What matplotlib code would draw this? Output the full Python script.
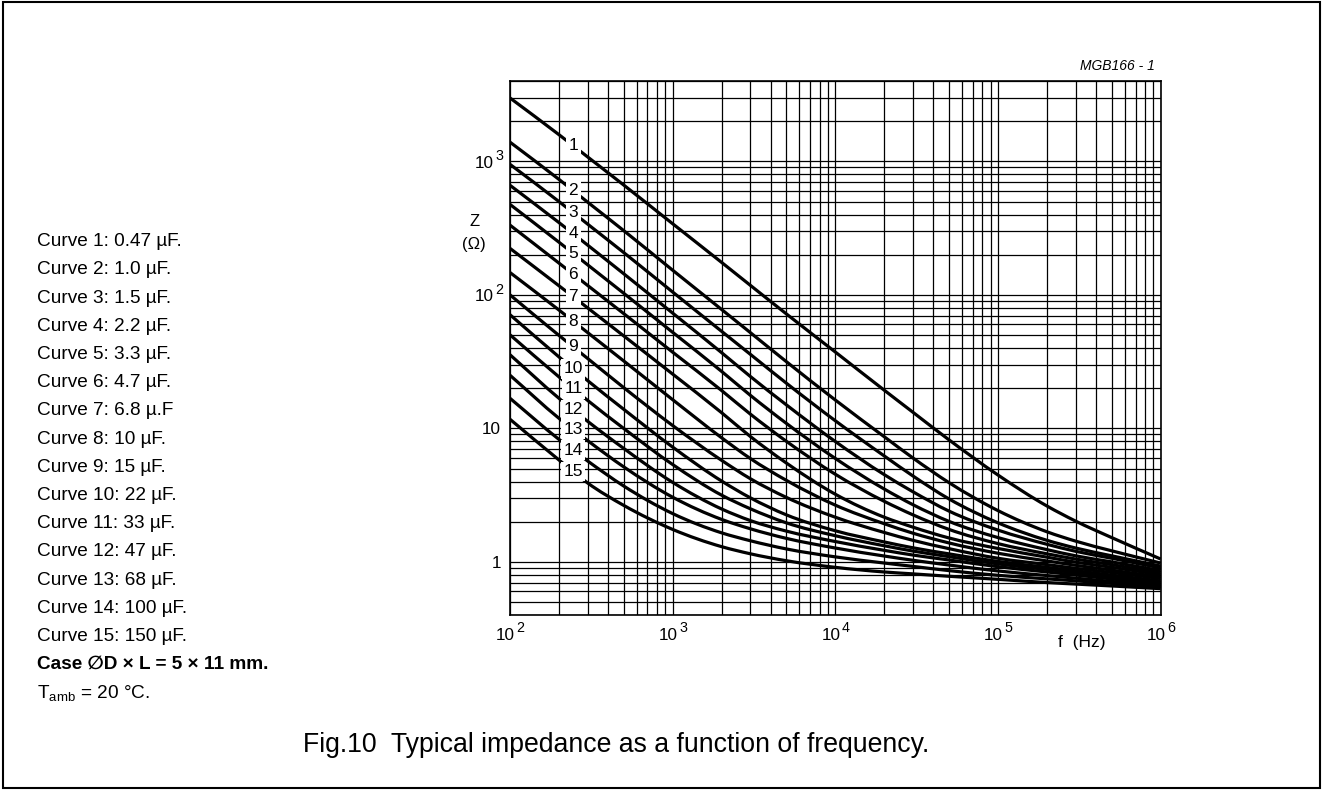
import numpy as np
import matplotlib
matplotlib.use("Agg")
import matplotlib.pyplot as plt
from matplotlib.ticker import FixedLocator, LogLocator, NullFormatter
from matplotlib.patches import Rectangle, PathPatch
from matplotlib.path import Path

plt.rcParams['font.family'] = ['Liberation Sans', 'DejaVu Sans']
plt.rcParams['mathtext.fontset'] = 'custom'
plt.rcParams['mathtext.rm'] = 'Liberation Sans'
plt.rcParams['mathtext.it'] = 'Liberation Sans:italic'
plt.rcParams['mathtext.bf'] = 'Liberation Sans:bold'

# ---------------- data ----------------
freq = [100, 200, 300, 500, 1e3, 2e3, 3e3, 5e3, 1e4, 2e4, 3e4, 5e4, 1e5, 2e5, 3e5, 5e5, 1e6]

curve_1 = [2985, 1585, 1080, 665, 341, 175, 118, 72, 37.3, 19.3, 13.2, 8.2, 4.47, 2.62, 2.02, 1.52, 1.05]
curve_2 = [1393, 733, 495, 303, 153, 77.7, 52.2, 31.6, 16.3, 8.65, 6.0, 3.92, 2.42, 1.68, 1.43, 1.21, 0.98]
curve_3 = [950, 500, 339, 207.5, 105, 53.3, 35.9, 21.8, 11.4, 6.21, 4.4, 2.96, 1.96, 1.45, 1.27, 1.11, 0.93]
curve_4 = [662, 348, 236, 144, 73, 36.9, 24.5, 15.0, 7.97, 4.50, 3.35, 2.40, 1.73, 1.354, 1.2, 1.064, 0.90]
curve_5 = [476, 248, 168, 102.8, 52.4, 26.7, 17.7, 10.9, 5.95, 3.51, 2.68, 2.01, 1.52, 1.235, 1.11, 1.0, 0.86]
curve_6 = [333, 173, 117.7, 72.4, 37.2, 19.2, 12.8, 8.0, 4.53, 2.84, 2.25, 1.75, 1.37, 1.149, 1.05, 0.953, 0.83]
curve_7 = [223, 117, 79.9, 49.3, 25.5, 13.1, 8.7, 5.5, 3.21, 2.16, 1.82, 1.51, 1.26, 1.084, 0.995, 0.911, 0.80]
curve_8 = [147, 77, 52.2, 32, 16.4, 8.5, 5.95, 4.08, 2.66, 1.93, 1.64, 1.386, 1.16, 1.016, 0.943, 0.867, 0.77]
curve_9 = [100, 49.7, 33.4, 20.2, 10.5, 5.76, 4.2, 3.04, 2.16, 1.66, 1.45, 1.256, 1.064, 0.954, 0.895, 0.832, 0.75]
curve_10 = [71, 34.3, 22.8, 13.9, 7.24, 4.03, 3.02, 2.25, 1.71, 1.41, 1.275, 1.148, 1.008, 0.91, 0.858, 0.796, 0.72]
curve_11 = [50.2, 24.3, 16.2, 9.99, 5.36, 3.16, 2.50, 1.96, 1.57, 1.32, 1.205, 1.094, 0.965, 0.877, 0.829, 0.771, 0.70]
curve_12 = [35.6, 16.8, 11.3, 7.08, 3.94, 2.49, 2.04, 1.70, 1.42, 1.22, 1.125, 1.033, 0.92, 0.84, 0.797, 0.745, 0.68]
curve_13 = [25, 11.9, 8.1, 5.15, 3.05, 2.08, 1.77, 1.5, 1.27, 1.106, 1.028, 0.947, 0.855, 0.79, 0.755, 0.714, 0.66]
curve_14 = [16.8, 8.27, 5.7, 3.7, 2.3, 1.65, 1.44, 1.25, 1.09, 0.98, 0.925, 0.86, 0.793, 0.746, 0.721, 0.69, 0.65]
curve_15 = [11.7, 5.8, 3.9, 2.65, 1.75, 1.3, 1.15, 1.02, 0.91, 0.84, 0.813, 0.78, 0.74, 0.70, 0.682, 0.66, 0.63]

curves = [curve_1, curve_2, curve_3, curve_4, curve_5, curve_6, curve_7, curve_8,
          curve_9, curve_10, curve_11, curve_12, curve_13, curve_14, curve_15]
curve_labels = [str(i) for i in range(1, 16)]

x_ticks = [1e2, 1e3, 1e4, 1e5, 1e6]
x_exponents = ['2', '3', '4', '5', '6']
y_ticks_pow = [1000, 100]
y_exponents = ['3', '2']
y_ticks_plain = [10, 1]
y_plain_labels = ['10', '1']

legend_lines = ["Curve 1: 0.47 \u00b5F.", "Curve 2: 1.0 \u00b5F.", "Curve 3: 1.5 \u00b5F.",
                "Curve 4: 2.2 \u00b5F.", "Curve 5: 3.3 \u00b5F.", "Curve 6: 4.7 \u00b5F.",
                "Curve 7: 6.8 \u00b5.F", "Curve 8: 10 \u00b5F.", "Curve 9: 15 \u00b5F.",
                "Curve 10: 22 \u00b5F.", "Curve 11: 33 \u00b5F.", "Curve 12: 47 \u00b5F.",
                "Curve 13: 68 \u00b5F.", "Curve 14: 100 \u00b5F.", "Curve 15: 150 \u00b5F."]
label_freq = 245

# ---------------- figure ----------------
W, H = 1324, 791
fig = plt.figure(figsize=(W / 100, H / 100), dpi=100)

def fx(x):
    return x / W

def fy(y):
    return 1 - y / H

PT = 0.72  # points per pixel at 100 dpi

ax = fig.add_axes([fx(510), fy(615), (1160.7 - 510) / W, (615 - 81) / H])
ax.set_xscale('log')
ax.set_yscale('log')
ax.set_xlim(1e2, 1e6)
ax.set_ylim(0.4, 4000)

ax.xaxis.set_major_locator(FixedLocator(x_ticks))
ax.yaxis.set_major_locator(FixedLocator(y_ticks_pow + y_ticks_plain))
ax.xaxis.set_minor_locator(LogLocator(base=10, subs=np.arange(2, 10), numticks=20))
ax.yaxis.set_minor_locator(LogLocator(base=10, subs=np.arange(2, 10), numticks=20))
for a in (ax.xaxis, ax.yaxis):
    a.set_major_formatter(NullFormatter())
    a.set_minor_formatter(NullFormatter())
ax.tick_params(which='both', length=0)
ax.grid(which='both', color='black', lw=0.9)
ax.set_axisbelow(True)
for s in ax.spines.values():
    s.set_linewidth(1.2)
    s.set_zorder(5)

# tick labels drawn as base + superscript
for t, e in zip(x_ticks, x_exponents):
    ax.annotate('10', xy=(t, 0), xycoords=('data', 'axes fraction'),
                xytext=(5 * PT, -21 * PT), textcoords='offset points',
                ha='right', va='center', fontsize=12.3, annotation_clip=False)
    ax.annotate(e, xy=(t, 0), xycoords=('data', 'axes fraction'),
                xytext=(6.5 * PT, -13.5 * PT), textcoords='offset points',
                ha='left', va='center', fontsize=10.3, annotation_clip=False)
for t, e in zip(y_ticks_pow, y_exponents):
    ax.annotate('10', xy=(0, t), xycoords=('axes fraction', 'data'),
                xytext=(-16.5 * PT, -2 * PT), textcoords='offset points',
                ha='right', va='center', fontsize=12.3, annotation_clip=False)
    ax.annotate(e, xy=(0, t), xycoords=('axes fraction', 'data'),
                xytext=(-6.5 * PT, 5 * PT), textcoords='offset points',
                ha='right', va='center', fontsize=10.3, annotation_clip=False)
for t, lab in zip(y_ticks_plain, y_plain_labels):
    ax.annotate(lab, xy=(0, t), xycoords=('axes fraction', 'data'),
                xytext=(-9 * PT, -1.5 * PT), textcoords='offset points',
                ha='right', va='center', fontsize=12.3, annotation_clip=False)


def smooth_path(xs, ys):
    """Smooth (Hermite/Bezier) path through the read points, built in log-log space."""
    lx = np.log10(np.asarray(xs, float))
    lyv = np.log10(np.asarray(ys, float))
    m = np.gradient(lyv, lx)
    verts = [(lx[0], lyv[0])]
    codes = [Path.MOVETO]
    for i in range(len(lx) - 1):
        h = lx[i + 1] - lx[i]
        verts += [(lx[i] + h / 3, lyv[i] + m[i] * h / 3),
                  (lx[i + 1] - h / 3, lyv[i + 1] - m[i + 1] * h / 3),
                  (lx[i + 1], lyv[i + 1])]
        codes += [Path.CURVE4] * 3
    verts = 10 ** np.array(verts)
    return Path(verts, codes)


for vals, lab in zip(curves, curve_labels):
    patch = PathPatch(smooth_path(freq, vals), facecolor='none', edgecolor='black',
                      lw=2.3, capstyle='butt', joinstyle='round', zorder=2)
    ax.add_patch(patch)
    ly = 10 ** np.interp(np.log10(label_freq), np.log10(freq), np.log10(vals))
    ax.text(label_freq, ly, lab, fontsize=12.5, ha='center', va='center', zorder=4,
            bbox=dict(facecolor='white', edgecolor='none', pad=1.8))

# axis labels
fig.text(fx(475), fy(222), 'Z', fontsize=12, ha='center', va='center')
fig.text(fx(474), fy(245), '(\u03a9)', fontsize=12, ha='center', va='center')
fig.text(fx(1082), fy(643), 'f  (Hz)', fontsize=12.5, ha='center', va='center')
fig.text(fx(1155), fy(66), 'MGB166 - 1', fontsize=10, style='italic', ha='right', va='center')

# left text block
FS = 13.7
for i, t in enumerate(legend_lines):
    fig.text(fx(37), fy(241.7 + 28.2 * i), t, fontsize=FS, ha='left', va='center')
fig.text(fx(37), fy(241.7 + 28.2 * 15), 'Case \u2205D \u00d7 L = 5 \u00d7 11 mm.', fontsize=FS,
         fontweight='bold', ha='left', va='center')
fig.text(fx(37), fy(241.7 + 28.2 * 16), 'T$_{\\mathregular{amb}}$ = 20 \u00b0C.',
         fontsize=FS, ha='left', va='center')

# caption
fig.text(fx(303), fy(745), 'Fig.10  Typical impedance as a function of frequency.',
         fontsize=19.2, ha='left', va='center')

# outer frame
fig.patches.append(Rectangle((fx(3), fy(788)), fx(1320) - fx(3), fy(2) - fy(788),
                             transform=fig.transFigure, fill=False, edgecolor='black', lw=1.5))

fig.savefig('out.png', dpi=100)
